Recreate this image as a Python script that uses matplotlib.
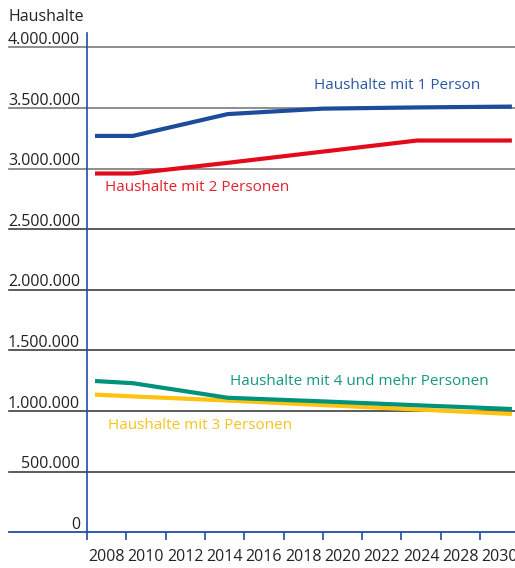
import numpy as np
import matplotlib
matplotlib.use("Agg")
import matplotlib.pyplot as plt

plt.rcParams['font.family'] = ['Open Sans', 'DejaVu Sans']

# Projektion der Haushalte nach Größe
years = [2008, 2010, 2015, 2020, 2025, 2030]
one_person = [3270000, 3270000, 3450000, 3495000, 3505000, 3512000]
two_persons = [2960000, 2960000, 3048000, 3140000, 3232000, 3232000]
three_persons = [1136000, 1121000, 1087000, 1050000, 1013000, 976000]
four_plus = [1248000, 1230000, 1110000, 1080000, 1048000, 1017000]

tick_years = ['2008', '2010', '2012', '2014', '2016', '2018',
              '2020', '2022', '2024', '2028', '2030']
y_levels = [0, 500000, 1000000, 1500000, 2000000, 2500000,
            3000000, 3500000, 4000000]

BLUE = '#1c4c9c'
RED = '#e30a1c'
GREEN = '#00927a'
YELLOW = '#ffc20e'
AXIS_BLUE = '#1f4ea3'
FS = 11.5      # axis text
FS_SERIES = 11  # line labels

W, H = 515, 568
fig = plt.figure(figsize=(W / 100, H / 100), dpi=100)
ax = fig.add_axes([87 / W, (H - 532.3) / H, 428 / W, (532.3 - 33) / H])

ax.set_xlim(2007.578, 2030.164)
ax.set_ylim(0, 4119000)

def fmt(v):
    return f"{v:,}".replace(',', '.')

# gridlines reach out to the left under the labels
ytr = ax.get_yaxis_transform()
for v in y_levels:
    if v == 0:
        ax.plot([-0.182, 1], [0, 0], color=AXIS_BLUE, lw=1.3,
                transform=ytr, clip_on=False, zorder=3)
    else:
        col = '#7a7a7a' if v >= 3000000 else '#404040'
        ax.plot([-0.182, 1], [v, v], color=col, lw=1.2,
                transform=ytr, clip_on=False, zorder=1)
    ax.text(-0.0165, v + 28000, fmt(v), transform=ytr, ha='right',
            va='baseline', fontsize=FS, color='#222222')

ax.plot(years, one_person, color=BLUE, lw=3, solid_capstyle='butt', zorder=4)
ax.plot(years, two_persons, color=RED, lw=3, solid_capstyle='butt', zorder=4)
ax.plot(years, three_persons, color=YELLOW, lw=3, solid_capstyle='butt', zorder=4)
ax.plot(years, four_plus, color=GREEN, lw=3, solid_capstyle='butt', zorder=5)

ax.text(2019.56, 3682000, 'Haushalte mit 1 Person', color='#2b58a6',
        fontsize=FS_SERIES, va='center')
ax.text(2008.53, 2841000, 'Haushalte mit 2 Personen', color='#e3222c',
        fontsize=FS_SERIES, va='center')
ax.text(2015.12, 1240000, 'Haushalte mit 4 und mehr Personen', color='#16987f',
        fontsize=FS_SERIES, va='center')
ax.text(2008.69, 877000, 'Haushalte mit 3 Personen', color='#f9c31f',
        fontsize=FS_SERIES, va='center')

for s in ['top', 'right', 'bottom']:
    ax.spines[s].set_visible(False)
ax.spines['left'].set_color(AXIS_BLUE)
ax.spines['left'].set_linewidth(1.2)
ax.set_xticks([])
ax.set_yticks([])

# category axis for the year labels
ax2 = ax.twiny()
ax2.set_xlim(0, 428 / 39.3)
for s in ['top', 'right', 'left', 'bottom']:
    ax2.spines[s].set_visible(False)
ax2.xaxis.set_ticks_position('bottom')
ax2.set_xticks(np.arange(len(tick_years)))
ax2.set_xticklabels([])
ax2.set_xticks(np.arange(len(tick_years)) + 0.5, minor=True)
ax2.set_xticklabels(tick_years, minor=True, fontsize=FS, color='#222222')
ax2.tick_params(axis='x', which='major', length=5.5, width=1.2,
                color=AXIS_BLUE, direction='out')
ax2.tick_params(axis='x', which='minor', length=0, pad=12)

fig.text(8 / W, 1 - 17 / H, 'Haushalte', fontsize=FS, va='center',
         ha='left', color='#222222')

fig.savefig('out.png', dpi=100)
